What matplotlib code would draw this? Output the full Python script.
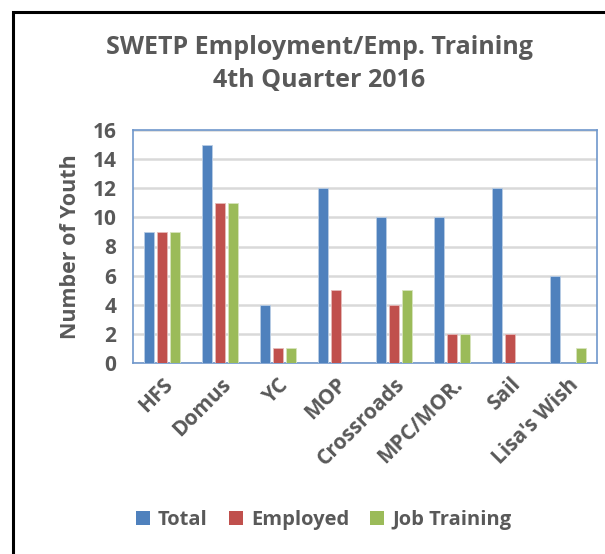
import numpy as np
import matplotlib.pyplot as plt
from matplotlib.patches import Rectangle

plt.rcParams['font.family'] = ['Open Sans', 'DejaVu Sans']
plt.rcParams['font.weight'] = 'bold'

# data
programs = ['HFS', 'Domus', 'YC', 'MOP', 'Crossroads', 'MPC/MOR.', 'Sail', "Lisa's Wish"]
total = [9, 15, 4, 12, 10, 10, 12, 6]
employed = [9, 11, 1, 5, 4, 2, 2, 0]
job_training = [9, 11, 1, 0, 5, 2, 0, 1]

txt = '#595959'
fig = plt.figure(figsize=(6.05, 5.54), dpi=100)
ax = fig.add_axes([133/605, 1-363/554, 464/605, 233/554])

x = np.arange(len(programs))
w = 0.18
off = 0.225
ax.bar(x - off, total, w, color='#4F81BD', edgecolor='#B9CDE5', linewidth=0.6, label='Total', zorder=3)
ax.bar(x, employed, w, color='#C0504D', edgecolor='#E6B9B8', linewidth=0.6, label='Employed', zorder=3)
ax.bar(x + off, job_training, w, color='#9BBB59', edgecolor='#D7E4BD', linewidth=0.6, label='Job Training', zorder=3)

ax.set_xlim(-0.5, len(programs) - 0.5)
ax.set_ylim(0, 16)
ax.set_yticks(range(0, 17, 2))
ax.yaxis.grid(True, color='#D9D9D9', linewidth=1.8, zorder=0)
ax.set_axisbelow(True)
for s in ax.spines.values():
    s.set_color('#6F97CC')
    s.set_linewidth(1.2)
ax.tick_params(length=0, colors=txt, labelsize=15)
ax.tick_params(axis='y', pad=12)
ax.set_xticks(x)
ax.set_xticklabels(programs, rotation=45, ha='right', rotation_mode='anchor', fontsize=15)
ax.tick_params(axis='x', pad=8)
ax.set_ylabel('Number of Youth', fontsize=15.5, fontweight='bold', color=txt, labelpad=8)

fig.text(0.528, 1-47/554, 'SWETP Employment/Emp. Training', ha='center', va='center',
         fontsize=18, color=txt)
fig.text(0.528, 1-80/554, '4th Quarter 2016', ha='center', va='center',
         fontsize=18, color=txt)

leg = fig.legend(loc='center', bbox_to_anchor=(0.535, 1-520/554), ncol=3, frameon=False,
                 handlelength=0.7, handleheight=0.7, handletextpad=0.4,
                 columnspacing=1.05, prop={'size': 14.5, 'weight': 'bold'})
for t in leg.get_texts():
    t.set_color(txt)
for h in leg.legend_handles:
    h.set_edgecolor('none')

# outer chart frame (only left/top visible)
fig.patches.append(Rectangle((13/605, -0.1), 1.2, 1 - 12/554 + 0.1, transform=fig.transFigure,
                             fill=False, edgecolor='black', linewidth=2.2))

fig.savefig('out.png', dpi=100)
